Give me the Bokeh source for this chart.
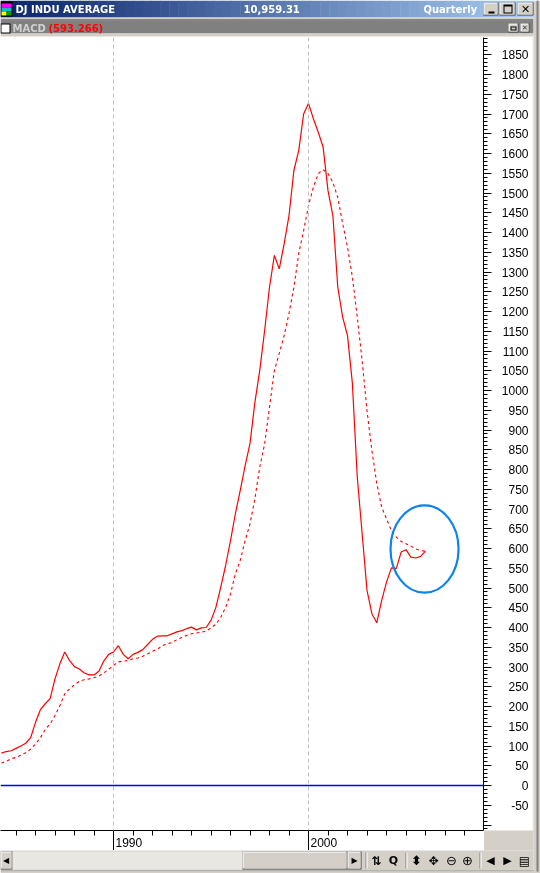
from bokeh.core.properties import value
from bokeh.embed import file_html
from bokeh.resources import INLINE
from bokeh.plotting import figure
from bokeh.models import (CustomJSTickFormatter, Ellipse, FixedTicker, LinearAxis, Range1d, Span)

# ---- data ----
START_YEAR = 1984.25
macd = [82, 86, 88, 94, 100, 107, 121, 160, 192, 207, 220, 270, 308, 338, 316, 301, 295, 285, 280, 280,
        289, 315, 332, 338, 354, 332, 321, 332, 337, 344, 357, 370, 378, 379, 379, 384, 389, 392, 397, 401,
        394, 399, 400, 418, 451, 502, 557, 620, 688, 747, 810, 866, 970, 1051, 1152, 1262, 1342, 1308, 1371, 1443,
        1557, 1608, 1700, 1727, 1688, 1654, 1616, 1506, 1443, 1262, 1186, 1139, 1018, 781, 638, 494, 435, 412, 468, 515,
        551, 549, 591, 597, 578, 576, 580, 593.266]
signal = [57, 61, 68, 71, 77, 83, 92, 105, 121, 142, 156, 177, 202, 232, 245, 255, 264, 268, 270, 273,
          277, 285, 294, 304, 313, 315, 316, 321, 323, 327, 333, 340, 345, 354, 359, 362, 369, 375, 380, 384,
          386, 388, 391, 399, 408, 426, 451, 485, 536, 570, 620, 662, 726, 806, 865, 958, 1051, 1094, 1139, 1195,
          1261, 1347, 1405, 1468, 1515, 1549, 1559, 1549, 1527, 1489, 1423, 1363, 1287, 1186, 1076, 949, 848, 765, 705, 675,
          645, 629, 618, 612, 606, 599, 595, 593]
decade_years = [1990, 2000]
year_ticks = list(range(1984, 2009))
value_ticks = list(range(-100, 1900, 50))
value_minor = list(range(-110, 1900, 10))
value_labels = list(range(-50, 1900, 50))
circle_year, circle_value, circle_w, circle_h = 2005.95, 598.7, 3.49, 221
TITLE, CLOSE_VALUE, PERIOD = "DJ INDU AVERAGE", "10,959.31", "Quarterly"
PANE, PANE_VALUE = "MACD", "(593.266)"

years = [START_YEAR + i / 4 for i in range(len(macd))]
W, H = 540, 873
FACE = "#d4d0c8"
FONT = "Liberation Sans"
BOLD = "DejaVu Sans"
x_range = Range1d(1984.205, 2008.974)
y_range = Range1d(-113.9, 1893.7)


def fixed(left, top):
    return {"position": "fixed", "left": f"{left}px", "top": f"{top}px"}


# ---- window chrome: bottom layer, drawn in pixels ----
c = figure(width=W, height=H, output_backend="svg", toolbar_location=None,
           x_range=Range1d(0, W), y_range=Range1d(H, 0), x_axis_location=None, y_axis_location=None,
           min_border=0, min_border_left=0, min_border_right=0, min_border_top=0, min_border_bottom=0,
           background_fill_color="white", border_fill_color="white", outline_line_color=None)
c.styles = fixed(0, 0)
c.grid.visible = False


def box(l, t, r, b, color):
    c.quad(left=l, right=r, top=t, bottom=b, fill_color=color, line_color=None)


def text(x, y, s, color="black", size="12px", font=FONT, style="normal", align="left"):
    c.text(x=[x], y=[y], text=[s], text_color=color, text_font_size=size, text_font=value(font),
           text_font_style=style, text_align=align, text_baseline="middle")


def button(l, t, r, b):
    box(l, t, r, b, "#404040")
    box(l, t, r - 1, b - 1, "white")
    box(l + 1, t + 1, r - 1, b - 1, FACE)


N = 60
c0, c1 = (10, 36, 106), (166, 202, 240)
for i in range(N):
    f = i / (N - 1)
    col = "#%02x%02x%02x" % tuple(int(a + (b - a) * f) for a, b in zip(c0, c1))
    box(533 * i / N, 0, 533 * (i + 1) / N + 0.5, 17, col)
box(0, 17, 533, 19, FACE)
box(0, 19, 533, 20, "#202020")
box(0, 20, 533, 33, "#808080")
box(0, 33, 533, 36, FACE)
box(533, 0, 540, H, FACE)
box(536, 0, 538, H, "#808080")
box(483.5, 830, 533, 850, FACE)
box(532, 37, 533, 830, "#e8e8e8")

box(0, 1, 12, 16, "black")
box(1, 3, 11, 7, "#ff00ff")
box(1, 7, 11, 11, "#00c0c0")
box(1, 11, 6, 15, "#ffff00")
box(6, 11, 11, 15, "#00a000")
text(15, 8.5, TITLE, "white", "10px", BOLD, "bold")
text(243, 8.5, CLOSE_VALUE, "white", "10px", BOLD, "bold")
text(423, 9, PERIOD, "white", "10px", BOLD, "bold")

button(483, 2, 498, 15)
box(488, 11, 494, 13, "black")
button(499, 2, 515, 15)
box(503, 4, 512, 13, "black")
box(504, 6, 511, 12, FACE)
button(517, 2, 533, 15)
text(525, 8.5, "✕", "black", "11px", "DejaVu Sans", "bold", "center")

box(0, 23, 10, 33, "black")
box(1, 24, 9, 32, "white")
text(12, 28, PANE, "#d0d0d0", "10px", BOLD, "bold")
text(48, 28, PANE_VALUE, "#ff0000", "10px", BOLD, "bold")
button(508, 23, 518, 32)
box(510, 26, 516, 30, "black")
box(511, 27, 515, 29, FACE)
button(520, 23, 529, 32)
text(524.5, 27.5, "✕", "#404040", "7px", "DejaVu Sans", "normal", "center")

box(0, 850, 533, 870, FACE)
box(0, 849.5, 483.5, 850.5, "#e8e8e8")
button(0, 851, 12, 869)
text(5.5, 860, "◀", "black", "8px", "DejaVu Sans", "normal", "center")
box(12, 851, 242, 869, "#e9e7e2")
button(242, 851, 347, 869)
button(347, 851, 361, 869)
text(354, 860, "▶", "black", "8px", "DejaVu Sans", "normal", "center")
for sx in (365, 405, 479):
    box(sx, 852, sx + 1, 868, "#808080")
    box(sx + 1, 852, sx + 2, 868, "white")
icons = [(376, "⇅", "12px", "bold"), (393, "Q", "11px", "bold"), (416, "⬍", "13px", "bold"),
         (433, "✥", "12px", "normal"), (451, "⊖", "13px", "normal"), (467, "⊕", "13px", "normal"),
         (490, "◀", "11px", "normal"), (507, "▶", "11px", "normal"), (524, "▤", "12px", "normal")]
for sx, ch, sz, st in icons:
    text(sx, 860, ch, "black", sz, "DejaVu Sans", st, "center")
box(0, 870, 533, 871, "#808080")
box(0, 871, 540, H, FACE)

# ---- the chart: frame 483x793 at (0,37), axes in the transparent border ----
p = figure(width=533, height=813, output_backend="svg", toolbar_location=None,
           x_range=x_range, y_range=y_range, x_axis_location=None, y_axis_location=None,
           min_border_left=0, min_border_right=50, min_border_top=0, min_border_bottom=20,
           background_fill_color="white", border_fill_color=None, outline_line_color=None)
p.styles = fixed(0, 37)
p.grid.visible = False

blank = CustomJSTickFormatter(code="return ''")
ya = LinearAxis(ticker=FixedTicker(ticks=value_ticks, minor_ticks=value_minor),
                major_tick_in=0, major_tick_out=8, minor_tick_in=0, minor_tick_out=4,
                axis_line_color="black", major_tick_line_color="black", minor_tick_line_color="black",
                major_label_standoff=0, formatter=blank)
p.add_layout(ya, "right")
xa = LinearAxis(ticker=FixedTicker(ticks=decade_years, minor_ticks=year_ticks),
                major_tick_in=0, major_tick_out=20, minor_tick_in=0, minor_tick_out=5,
                axis_line_color="black", major_tick_line_color="black", minor_tick_line_color="black",
                major_label_standoff=0, formatter=blank)
p.add_layout(xa, "below")

for yr in decade_years:
    p.add_layout(Span(location=yr, dimension="height", line_color="#c0c0c0", line_dash="4 3", line_width=1))
zero_line = Span(location=0, dimension="width", line_color="#0000ff", line_width=1.3)
p.add_layout(zero_line)

p.line(years, signal, line_color="#ff0000", line_width=1.1, line_dash="3 3")
p.line(years, macd, line_color="#ff0000", line_width=1.2)
p.add_glyph(Ellipse(x=circle_year, y=circle_value, width=circle_w, height=circle_h,
                    fill_color=None, line_color="#0a84f0", line_width=2.2))

# ---- value labels: share the chart's y scale, right-aligned ----
v = figure(width=533, height=793, output_backend="svg", toolbar_location=None,
           x_range=Range1d(0, 533), y_range=y_range, x_axis_location=None, y_axis_location=None,
           min_border=0, min_border_left=0, min_border_right=0, min_border_top=0, min_border_bottom=0,
           background_fill_color=None, border_fill_color=None, outline_line_color=None)
v.styles = fixed(0, 37)
v.grid.visible = False
v.text(x=[528] * len(value_labels), y=value_labels, text=[str(t) for t in value_labels],
       text_font=value(FONT), text_font_size="12px", text_color="black",
       text_align="right", text_baseline="middle")

# ---- year labels: share the chart's x scale, right of the long ticks ----
d = figure(width=483, height=20, output_backend="svg", toolbar_location=None,
           x_range=x_range, y_range=Range1d(0, 20), x_axis_location=None, y_axis_location=None,
           min_border=0, min_border_left=0, min_border_right=0, min_border_top=0, min_border_bottom=0,
           background_fill_color=None, border_fill_color=None, outline_line_color=None)
d.styles = fixed(0, 831)
d.grid.visible = False
d.text(x=decade_years, y=[9] * len(decade_years), text=[str(t) for t in decade_years], x_offset=2,
       text_font=value(FONT), text_font_size="12px", text_color="black", text_baseline="middle")

open("out.html", "w").write(file_html([c, p, v, d], INLINE))
